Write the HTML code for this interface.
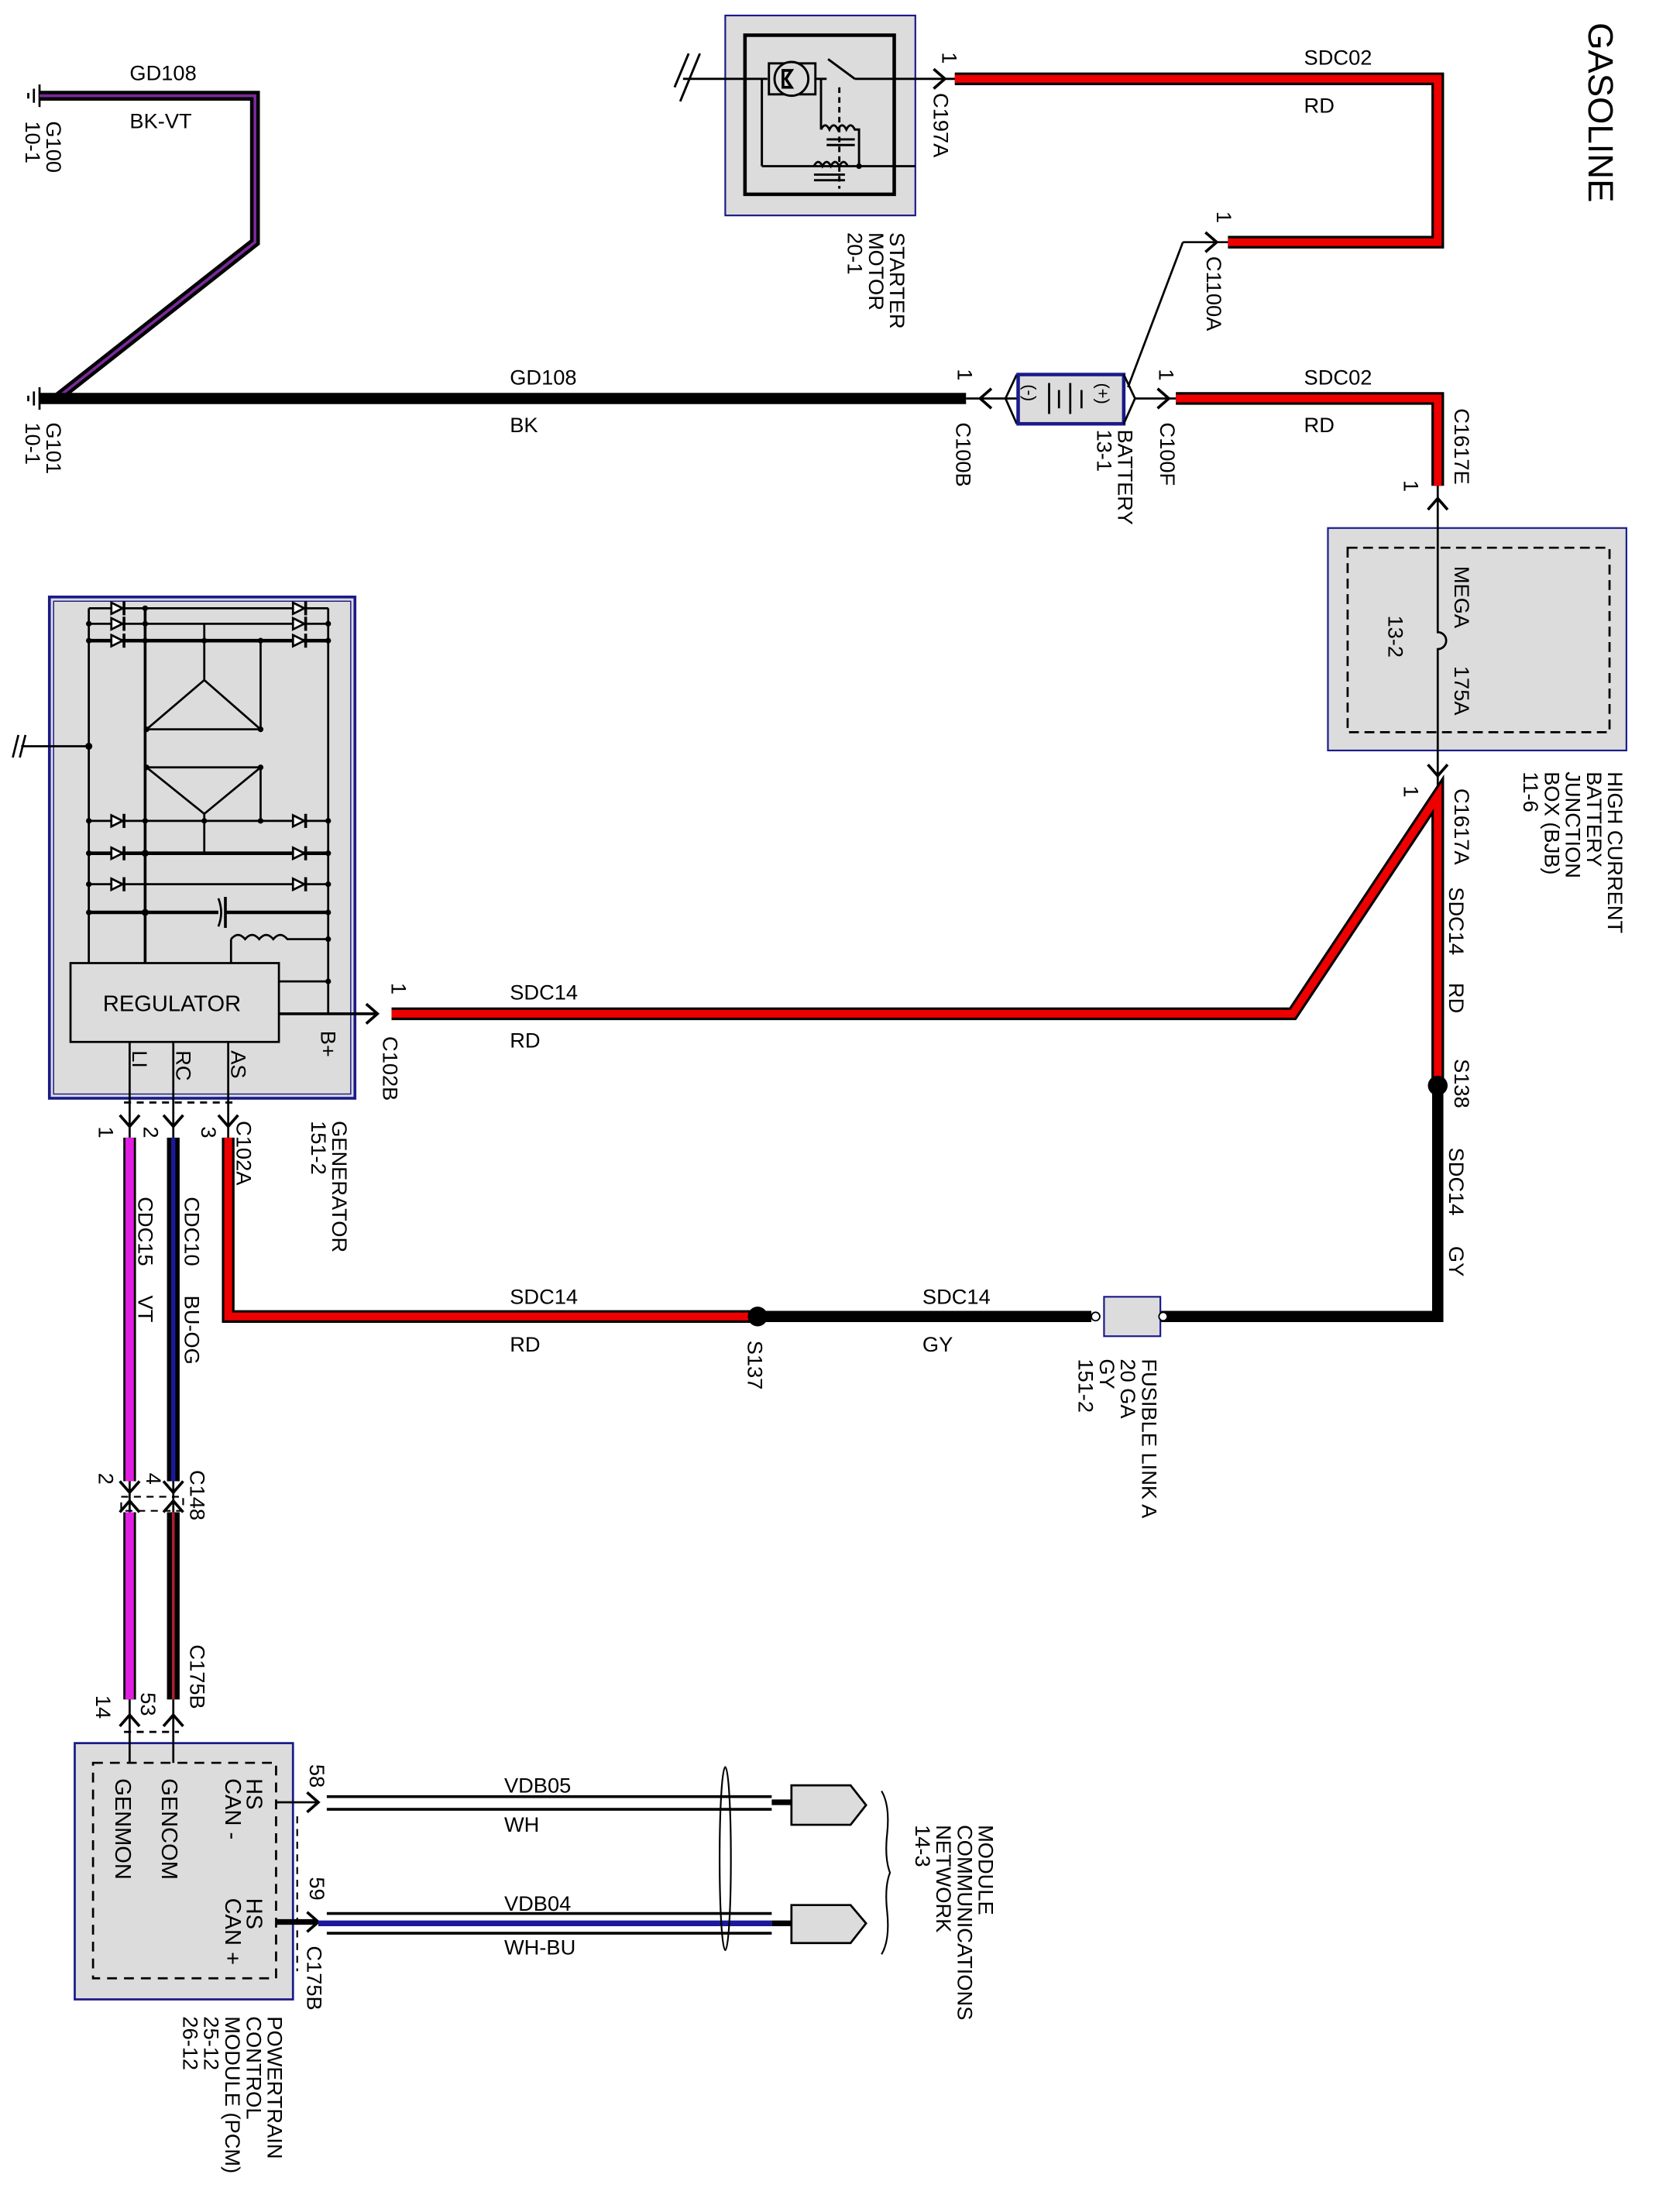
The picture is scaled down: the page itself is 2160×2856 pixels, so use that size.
<!DOCTYPE html>
<html><head><meta charset="utf-8"><style>
html,body{margin:0;padding:0;background:#fff;}
svg{display:block;}
text{font-family:"Liberation Sans",Arial,sans-serif;font-size:15px;fill:#000;}
</style></head><body>
<svg width="2160" height="2856" viewBox="0 0 1188 1571" xmlns="http://www.w3.org/2000/svg">
<rect width="1188" height="1571" fill="#fff"/>

<text transform="translate(1128,16) rotate(90)" style="font-size:25px">GASOLINE</text>

<g stroke="#000" stroke-width="1.5" fill="none">
<line x1="28" y1="60" x2="28" y2="76"/><line x1="24" y1="63" x2="24" y2="73"/><line x1="20" y1="66" x2="20" y2="70"/>
<line x1="28" y1="275" x2="28" y2="291"/><line x1="24" y1="278" x2="24" y2="288"/><line x1="20" y1="281" x2="20" y2="285"/>
</g>
<text transform="translate(33,86) rotate(90)">G100</text>
<text transform="translate(18,86) rotate(90)">10-1</text>
<text transform="translate(33,300) rotate(90)">G101</text>
<text transform="translate(18,300) rotate(90)">10-1</text>

<polyline points="28,68 181,68 181,172 40,283" fill="none" stroke="#000" stroke-width="7"/>
<polyline points="28,68 181,68 181,172 40,283" fill="none" stroke="#7a2a9a" stroke-width="2"/>
<text x="92" y="57">GD108</text>
<text x="92" y="91">BK-VT</text>

<line x1="28" y1="283" x2="686" y2="283" stroke="#000" stroke-width="8"/>
<text x="362" y="273">GD108</text>
<text x="362" y="307">BK</text>

<text transform="translate(680,262) rotate(90)">1</text>
<line x1="686" y1="283" x2="722" y2="283" stroke="#000" stroke-width="1.5"/>
<polyline points="704,276 696,283 704,290" fill="none" stroke="#000" stroke-width="2"/>
<polyline points="722,266 714,283 722,301" fill="none" stroke="#000" stroke-width="1.5"/>
<rect x="723" y="266" width="75" height="35" fill="#dcdcdc" stroke="#1a1a8a" stroke-width="2.5"/>
<g stroke="#000" stroke-width="1.5">
<line x1="745" y1="272" x2="745" y2="294"/><line x1="752" y1="277" x2="752" y2="290"/><line x1="760" y1="272" x2="760" y2="294"/><line x1="768" y1="277" x2="768" y2="290"/>
</g>
<text transform="translate(727,273) rotate(90)" style="font-size:12px">(-)</text>
<text transform="translate(779,272) rotate(90)" style="font-size:12px">(+)</text>
<polyline points="798,266 806,283 798,301" fill="none" stroke="#000" stroke-width="1.5"/>
<line x1="806" y1="283" x2="835" y2="283" stroke="#000" stroke-width="1.5"/>
<polyline points="822,276 830,283 822,290" fill="none" stroke="#000" stroke-width="2"/>
<text transform="translate(823,262) rotate(90)">1</text>
<text transform="translate(679,300) rotate(90)">C100B</text>
<text transform="translate(824,300) rotate(90)">C100F</text>
<text transform="translate(794,305) rotate(90)">BATTERY</text>
<text transform="translate(779,305) rotate(90)">13-1</text>
<line x1="801" y1="275" x2="840" y2="172" stroke="#000" stroke-width="1.5"/>
<line x1="840" y1="172" x2="872" y2="172" stroke="#000" stroke-width="1.5"/>
<polyline points="856,165 864,172 856,179" fill="none" stroke="#000" stroke-width="2"/>
<text transform="translate(864,150) rotate(90)">1</text>
<text transform="translate(857,182) rotate(90)">C1100A</text>

<rect x="515" y="11" width="135" height="142" fill="#dcdcdc" stroke="#1a1a8a" stroke-width="1.2"/>
<rect x="529" y="25" width="106" height="113" fill="none" stroke="#000" stroke-width="2.5"/>
<g stroke="#000" stroke-width="1.6" fill="none">
<line x1="485" y1="56" x2="545" y2="56"/>
<rect x="546" y="45" width="33" height="22"/>
<circle cx="562" cy="56" r="12" fill="#dcdcdc"/>
<line x1="579" y1="56" x2="587" y2="56"/>
<line x1="588" y1="42" x2="607" y2="56"/>
<line x1="607" y1="56" x2="680" y2="56"/>
<line x1="541" y1="56" x2="541" y2="118"/>
<line x1="541" y1="118" x2="650" y2="118"/>
<line x1="583" y1="56" x2="583" y2="92"/>
<line x1="596" y1="62" x2="596" y2="134" stroke-dasharray="4,3"/>
<path d="M583,92 q3,-6 6,0 q3,-6 6,0 q3,-6 6,0 q3,-6 6,0 L610,92 L610,118"/>
<line x1="587" y1="99" x2="607" y2="99"/><line x1="587" y1="103" x2="607" y2="103"/>
<path d="M578,118 q3,-6 6,0 q3,-6 6,0 q3,-6 6,0 q3,-6 6,0"/>
<line x1="578" y1="124" x2="600" y2="124"/><line x1="578" y1="128" x2="600" y2="128"/>
<line x1="497" y1="38" x2="483" y2="72"/><line x1="489" y1="38" x2="479" y2="62"/>
</g>
<circle cx="610" cy="118" r="2" fill="#000"/>
<path d="M556,50 H562 L558,56 L562,62 H556 Z" fill="none" stroke="#000" stroke-width="2"/>
<polyline points="663,49 671,56 663,63" fill="none" stroke="#000" stroke-width="2"/>
<text transform="translate(669,37) rotate(90)">1</text>
<text transform="translate(663,66) rotate(90)">C197A</text>
<text transform="translate(632,165) rotate(90)">STARTER</text>
<text transform="translate(617,165) rotate(90)">MOTOR</text>
<text transform="translate(602,165) rotate(90)">20-1</text>

<polyline points="678,56 1021,56 1021,172 872,172" fill="none" stroke="#000" stroke-width="9"/>
<polyline points="678,56 1021,56 1021,172 872,172" fill="none" stroke="#ee0000" stroke-width="5.5"/>
<text x="926" y="46">SDC02</text>
<text x="926" y="80">RD</text>

<polyline points="835,283 1021,283 1021,345" fill="none" stroke="#000" stroke-width="9"/>
<polyline points="835,283 1021,283 1021,345" fill="none" stroke="#ee0000" stroke-width="5.5"/>
<text x="926" y="273">SDC02</text>
<text x="926" y="307">RD</text>
<text transform="translate(1033,290) rotate(90)">C1617E</text>
<text transform="translate(997,341) rotate(90)">1</text>
<polyline points="1014,362 1021,354 1028,362" fill="none" stroke="#000" stroke-width="2"/>

<rect x="943" y="375" width="212" height="158" fill="#dcdcdc" stroke="#1a1a8a" stroke-width="1.2"/>
<rect x="957" y="389" width="186" height="131" fill="none" stroke="#000" stroke-width="1.5" stroke-dasharray="7,4"/>
<path d="M1021,345 V449 a6,6 0 0 1 0,12 V560" fill="none" stroke="#000" stroke-width="1.5"/>
<text transform="translate(1033,402) rotate(90)">MEGA</text>
<text transform="translate(1033,473) rotate(90)">175A</text>
<text transform="translate(986,437) rotate(90)">13-2</text>
<polyline points="1014,543 1021,551 1028,543" fill="none" stroke="#000" stroke-width="2"/>
<text transform="translate(1142,548) rotate(90)">HIGH CURRENT</text>
<text transform="translate(1127,548) rotate(90)">BATTERY</text>
<text transform="translate(1112,548) rotate(90)">JUNCTION</text>
<text transform="translate(1097,548) rotate(90)">BOX (BJB)</text>
<text transform="translate(1082,548) rotate(90)">11-6</text>
<text transform="translate(997,558) rotate(90)">1</text>
<text transform="translate(1033,560) rotate(90)">C1617A</text>

<polyline points="278,720 918,720 1021,565 1021,771" fill="none" stroke="#000" stroke-width="9"/>
<polyline points="278,720 918,720 1021,565 1021,771" fill="none" stroke="#ee0000" stroke-width="5.5"/>
<text x="362" y="710">SDC14</text>
<text x="362" y="744">RD</text>
<text transform="translate(1029,630) rotate(90)">SDC14</text>
<text transform="translate(1029,698) rotate(90)">RD</text>
<circle cx="1021" cy="771" r="7" fill="#000"/>
<text transform="translate(1033,752) rotate(90)">S138</text>

<polyline points="1021,771 1021,935 823,935" fill="none" stroke="#000" stroke-width="8"/>
<text transform="translate(1029,815) rotate(90)">SDC14</text>
<text transform="translate(1029,885) rotate(90)">GY</text>
<rect x="784" y="921" width="40" height="28" fill="#dcdcdc" stroke="#1a1a8a" stroke-width="1.2"/>
<circle cx="826" cy="935" r="3" fill="#fff" stroke="#000"/>
<circle cx="778" cy="935" r="3" fill="#fff" stroke="#000"/>
<line x1="775" y1="935" x2="538" y2="935" stroke="#000" stroke-width="8"/>
<text x="655" y="926">SDC14</text>
<text x="655" y="960">GY</text>
<text transform="translate(811,965) rotate(90)">FUSIBLE LINK A</text>
<text transform="translate(796,965) rotate(90)">20 GA</text>
<text transform="translate(781,965) rotate(90)">GY</text>
<text transform="translate(766,965) rotate(90)">151-2</text>
<polyline points="538,935 162,935 162,808" fill="none" stroke="#000" stroke-width="9"/>
<polyline points="538,935 162,935 162,808" fill="none" stroke="#ee0000" stroke-width="5.5"/>
<circle cx="538" cy="935" r="7" fill="#000"/>
<text transform="translate(531,952) rotate(90)">S137</text>
<text x="362" y="926">SDC14</text>
<text x="362" y="960">RD</text>

<rect x="35" y="424" width="217" height="356" fill="#dcdcdc" stroke="#1a1a8a" stroke-width="2"/>
<rect x="38" y="427" width="211" height="350" fill="none" stroke="#1a1a8a" stroke-width="0.8"/>
<g stroke="#000" stroke-width="1.5" fill="none">
<line x1="63" y1="432" x2="63" y2="684"/>
<line x1="233" y1="432" x2="233" y2="720"/>
<line x1="103" y1="432" x2="103" y2="684" stroke-width="2"/>
<line x1="63" y1="432" x2="233" y2="432"/>
<line x1="63" y1="443" x2="233" y2="443"/>
<line x1="63" y1="455" x2="233" y2="455" stroke-width="2.5"/>
<line x1="63" y1="583" x2="233" y2="583"/>
<line x1="63" y1="606" x2="233" y2="606" stroke-width="2.5"/>
<line x1="63" y1="628" x2="233" y2="628"/>
<line x1="63" y1="648" x2="155" y2="648" stroke-width="2.5"/>
<line x1="160" y1="648" x2="233" y2="648" stroke-width="2.5"/>
<path d="M155,638 q4,10 0,20"/><line x1="160" y1="637" x2="160" y2="659" stroke-width="2"/>
<line x1="15" y1="530" x2="63" y2="530"/>
<line x1="145" y1="443" x2="145" y2="483"/>
<line x1="185" y1="455" x2="185" y2="518"/>
<path d="M104,518 L145,483 L185,518 Z"/>
<path d="M104,518 H185"/>
<path d="M104,545 H185 M104,545 L145,578 L185,545 M145,578 V606"/>
<line x1="185" y1="545" x2="185" y2="583"/>
<path d="M164,667 V684 M164,667 q5,-6 10,0 q5,-6 10,0 q5,-6 10,0 q5,-6 10,0 H233"/>
<line x1="198" y1="697" x2="233" y2="697"/>
<line x1="198" y1="720" x2="268" y2="720" stroke-width="2"/>
<line x1="13" y1="522" x2="9" y2="538"/><line x1="18" y1="522" x2="14" y2="538"/>
</g>
<g fill="#000">
<circle cx="63" cy="443" r="2"/><circle cx="63" cy="455" r="2"/><circle cx="103" cy="432" r="2"/><circle cx="103" cy="443" r="2"/><circle cx="103" cy="455" r="2"/>
<circle cx="233" cy="443" r="2"/><circle cx="233" cy="455" r="2"/><circle cx="145" cy="455" r="2"/><circle cx="185" cy="455" r="2"/>
<circle cx="63" cy="530" r="2.5"/><circle cx="63" cy="583" r="2"/><circle cx="63" cy="606" r="2"/><circle cx="63" cy="628" r="2"/><circle cx="63" cy="648" r="2"/>
<circle cx="103" cy="583" r="2"/><circle cx="103" cy="606" r="2.5"/><circle cx="103" cy="648" r="2.5"/><circle cx="145" cy="583" r="2"/><circle cx="185" cy="583" r="2"/>
<circle cx="233" cy="583" r="2"/><circle cx="233" cy="606" r="2"/><circle cx="233" cy="628" r="2"/><circle cx="233" cy="648" r="2"/><circle cx="233" cy="667" r="2"/><circle cx="233" cy="697" r="2"/><circle cx="104" cy="518" r="2"/><circle cx="185" cy="518" r="2"/><circle cx="104" cy="545" r="2"/><circle cx="185" cy="545" r="2"/>
</g>
<g fill="#fff" stroke="#000" stroke-width="1.5">
<path d="M79,428 L87,432 L79,436 Z"/><path d="M79,439 L87,443 L79,447 Z"/><path d="M79,451 L87,455 L79,459 Z"/>
<path d="M208,428 L216,432 L208,436 Z"/><path d="M208,439 L216,443 L208,447 Z"/><path d="M208,451 L216,455 L208,459 Z"/>
<path d="M79,579 L87,583 L79,587 Z"/><path d="M79,602 L87,606 L79,610 Z"/><path d="M79,624 L87,628 L79,632 Z"/>
<path d="M208,579 L216,583 L208,587 Z"/><path d="M208,602 L216,606 L208,610 Z"/><path d="M208,624 L216,628 L208,632 Z"/>
</g>
<g stroke="#000" stroke-width="2">
<line x1="88" y1="427" x2="88" y2="437"/><line x1="88" y1="438" x2="88" y2="448"/><line x1="88" y1="450" x2="88" y2="460"/>
<line x1="217" y1="427" x2="217" y2="437"/><line x1="217" y1="438" x2="217" y2="448"/><line x1="217" y1="450" x2="217" y2="460"/>
<line x1="88" y1="578" x2="88" y2="588"/><line x1="88" y1="601" x2="88" y2="611"/><line x1="88" y1="623" x2="88" y2="633"/>
<line x1="217" y1="578" x2="217" y2="588"/><line x1="217" y1="601" x2="217" y2="611"/><line x1="217" y1="623" x2="217" y2="633"/>
</g>
<rect x="50" y="684" width="148" height="56" fill="#dcdcdc" stroke="#000" stroke-width="1.5"/>
<text x="73" y="718" style="font-size:16px">REGULATOR</text>
<text transform="translate(228,732) rotate(90)">B+</text>
<text transform="translate(94,746) rotate(90)">LI</text>
<text transform="translate(125,746) rotate(90)">RC</text>
<text transform="translate(164,746) rotate(90)">AS</text>
<polyline points="260,713 268,720 260,727" fill="none" stroke="#000" stroke-width="2"/>
<text transform="translate(278,698) rotate(90)">1</text>
<text transform="translate(272,736) rotate(90)">C102B</text>
<g stroke="#000" stroke-width="1.5" fill="none">
<line x1="92" y1="740" x2="92" y2="808"/><line x1="123" y1="740" x2="123" y2="808"/><line x1="162" y1="740" x2="162" y2="808"/>
<line x1="88" y1="783" x2="166" y2="783" stroke-dasharray="5,4"/>
<polyline points="85,792 92,800 99,792" stroke-width="2"/><polyline points="116,792 123,800 130,792" stroke-width="2"/><polyline points="155,792 162,800 169,792" stroke-width="2"/>
</g>
<text transform="translate(70,800) rotate(90)">1</text>
<text transform="translate(102,800) rotate(90)">2</text>
<text transform="translate(143,800) rotate(90)">3</text>
<text transform="translate(168,796) rotate(90)">C102A</text>
<text transform="translate(236,796) rotate(90)">GENERATOR</text>
<text transform="translate(221,796) rotate(90)">151-2</text>

<line x1="92" y1="808" x2="92" y2="1052" stroke="#000" stroke-width="9"/>
<line x1="92" y1="808" x2="92" y2="1052" stroke="#e020e0" stroke-width="6"/>
<line x1="123" y1="808" x2="123" y2="1052" stroke="#000" stroke-width="9"/>
<line x1="123" y1="808" x2="123" y2="1052" stroke="#1a1a9a" stroke-width="3"/>
<text transform="translate(98,850) rotate(90)">CDC15</text>
<text transform="translate(98,920) rotate(90)">VT</text>
<text transform="translate(131,850) rotate(90)">CDC10</text>
<text transform="translate(131,920) rotate(90)">BU-OG</text>
<g stroke="#000" stroke-width="2" fill="none">
<polyline points="85,1052 92,1060 99,1052"/><polyline points="116,1052 123,1060 130,1052"/>
<polyline points="85,1074 92,1066 99,1074"/><polyline points="116,1074 123,1066 130,1074"/>
<rect x="86" y="1063" width="44" height="10" stroke-width="1.2" stroke-dasharray="5,4"/>
<line x1="92" y1="1052" x2="92" y2="1074" stroke-width="1.5"/><line x1="123" y1="1052" x2="123" y2="1074" stroke-width="1.5"/>
</g>
<text transform="translate(70,1046) rotate(90)">2</text>
<text transform="translate(104,1046) rotate(90)">4</text>
<text transform="translate(135,1044) rotate(90)">C148</text>
<line x1="92" y1="1074" x2="92" y2="1207" stroke="#000" stroke-width="9"/>
<line x1="92" y1="1074" x2="92" y2="1207" stroke="#e020e0" stroke-width="6"/>
<line x1="123" y1="1074" x2="123" y2="1207" stroke="#000" stroke-width="9"/>
<line x1="123" y1="1074" x2="123" y2="1207" stroke="#aa2030" stroke-width="2"/>
<text transform="translate(135,1168) rotate(90)">C175B</text>
<text transform="translate(68,1204) rotate(90)">14</text>
<text transform="translate(100,1202) rotate(90)">53</text>
<g stroke="#000" stroke-width="2" fill="none">
<polyline points="85,1226 92,1218 99,1226"/><polyline points="116,1226 123,1218 130,1226"/>
<line x1="88" y1="1230" x2="127" y2="1230" stroke-width="1.5" stroke-dasharray="5,4"/>
</g>

<rect x="53" y="1238" width="155" height="182" fill="#dcdcdc" stroke="#1a1a8a" stroke-width="1.5"/>
<rect x="66" y="1252" width="130" height="153" fill="none" stroke="#000" stroke-width="1.5" stroke-dasharray="7,5"/>
<line x1="92" y1="1207" x2="92" y2="1252" stroke="#000" stroke-width="1.5"/>
<line x1="123" y1="1207" x2="123" y2="1252" stroke="#000" stroke-width="1.5"/>
<text transform="translate(82,1263) rotate(90)" style="font-size:16px">GENMON</text>
<text transform="translate(115,1263) rotate(90)" style="font-size:16px">GENCOM</text>
<text transform="translate(175,1263) rotate(90)" style="font-size:16px">HS</text>
<text transform="translate(160,1263) rotate(90)" style="font-size:16px">CAN -</text>
<text transform="translate(175,1348) rotate(90)" style="font-size:16px">HS</text>
<text transform="translate(160,1348) rotate(90)" style="font-size:16px">CAN +</text>
<line x1="211" y1="1290" x2="211" y2="1400" stroke="#000" stroke-width="1.2" stroke-dasharray="5,4"/>
<line x1="196" y1="1280" x2="225" y2="1280" stroke="#000" stroke-width="1.5"/>
<line x1="196" y1="1365" x2="225" y2="1365" stroke="#000" stroke-width="4"/>
<polyline points="218,1273 226,1280 218,1287" fill="none" stroke="#000" stroke-width="2"/>
<polyline points="218,1358 226,1365 218,1372" fill="none" stroke="#000" stroke-width="2"/>
<text transform="translate(220,1253) rotate(90)">58</text>
<text transform="translate(220,1333) rotate(90)">59</text>
<text transform="translate(218,1382) rotate(90)">C175B</text>
<text transform="translate(190,1432) rotate(90)">POWERTRAIN</text>
<text transform="translate(175,1432) rotate(90)">CONTROL</text>
<text transform="translate(160,1432) rotate(90)">MODULE (PCM)</text>
<text transform="translate(145,1432) rotate(90)">25-12</text>
<text transform="translate(130,1432) rotate(90)">26-12</text>

<g stroke="#000" stroke-width="2">
<line x1="232" y1="1276" x2="548" y2="1276"/><line x1="232" y1="1285" x2="548" y2="1285"/>
<line x1="232" y1="1359" x2="548" y2="1359"/><line x1="232" y1="1373" x2="548" y2="1373"/>
<line x1="548" y1="1280" x2="562" y2="1280" stroke-width="4"/>
<line x1="548" y1="1366" x2="562" y2="1366" stroke-width="4"/>
</g>
<line x1="226" y1="1366" x2="548" y2="1366" stroke="#1a1a9a" stroke-width="4"/>
<text x="358" y="1273">VDB05</text>
<text x="358" y="1301">WH</text>
<text x="358" y="1357">VDB04</text>
<text x="358" y="1388">WH-BU</text>
<ellipse cx="515" cy="1320" rx="4" ry="65" fill="none" stroke="#000" stroke-width="1.2"/>
<path d="M562,1268 H604 L615,1282 L604,1296 H562 Z" fill="#dcdcdc" stroke="#000" stroke-width="1.5"/>
<path d="M562,1353 H604 L615,1366 L604,1380 H562 Z" fill="#dcdcdc" stroke="#000" stroke-width="1.5"/>
<path d="M626,1272 q6,10 4,30 q-2,18 2,28 q-4,10 -2,28 q2,20 -4,30" fill="none" stroke="#000" stroke-width="1.2"/>
<text transform="translate(695,1296) rotate(90)">MODULE</text>
<text transform="translate(680,1296) rotate(90)">COMMUNICATIONS</text>
<text transform="translate(665,1296) rotate(90)">NETWORK</text>
<text transform="translate(650,1296) rotate(90)">14-3</text>
</svg>
</body></html>
